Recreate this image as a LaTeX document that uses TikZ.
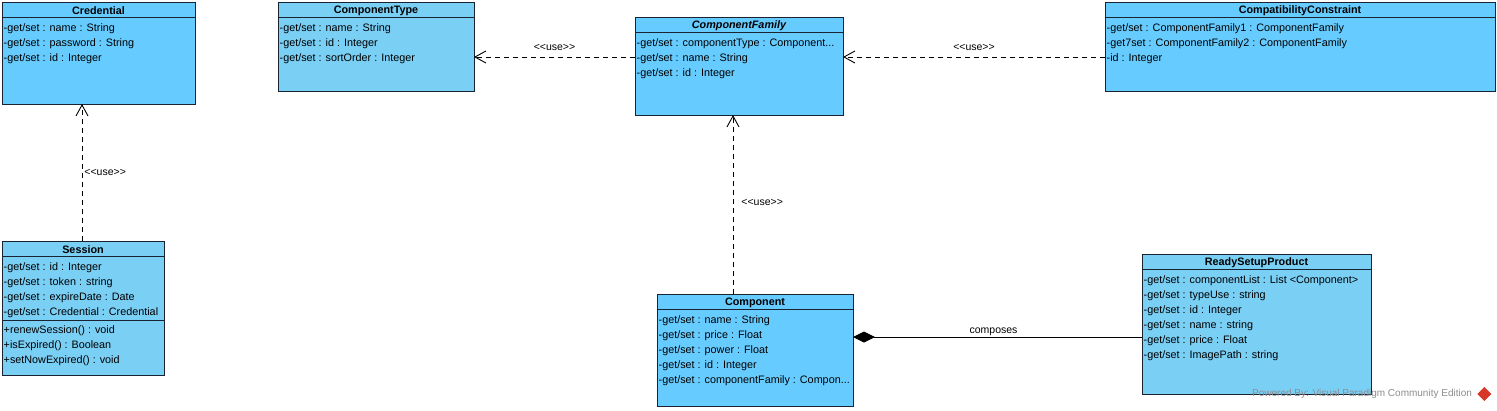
\documentclass[tikz,border=0pt]{standalone}
\usepackage{fontspec}
\setmainfont{Liberation Sans}
\usetikzlibrary{arrows.meta,shapes.geometric,positioning}
\definecolor{clsblue}{RGB}{102,204,255}
\definecolor{clslight}{RGB}{122,207,245}
\definecolor{clsline}{RGB}{25,35,50}
\definecolor{vpred}{RGB}{215,55,40}
\begin{document}
\begin{tikzpicture}[x=1pt, y=-1pt,
  cls/.style={draw=clsline, line width=1pt, anchor=north west, inner sep=0pt, outer sep=0pt},
  hl/.style={draw=clsline, line width=1pt},
  ttl/.style={font=\fontsize{10.8}{13}\selectfont\bfseries, inner sep=0pt},
  rows/.style={font=\fontsize{10.8}{15}\selectfont, align=left, anchor=north west, inner sep=0pt},
  usedep/.style={line width=0.9pt, dash pattern=on 5pt off 4pt, -{Straight Barb[length=11pt,width=12pt]}},
  lbl/.style={font=\fontsize{10.5}{12}\selectfont, inner sep=1pt}]
  \useasboundingbox (0,0) rectangle (1497,410);
  % Credential
  \node [cls, fill=clsblue, minimum width=193pt, minimum height=102pt] (cred) at (2,2) {};
  \draw [hl] ([yshift=-15pt]cred.north west) -- ([yshift=-15pt]cred.north east);
  \node [ttl] at ([yshift=-8.5pt]cred.north) {Credential};
  \node [rows] at ([xshift=1.5pt,yshift=-21pt]cred.north west)
    {-get/set : name : String\\-get/set : password : String\\-get/set : id : Integer};
  % ComponentType
  \node [cls, fill=clslight, minimum width=196pt, minimum height=89pt] (ctype) at (278,2) {};
  \draw [hl] ([yshift=-15pt]ctype.north west) -- ([yshift=-15pt]ctype.north east);
  \node [ttl] at ([yshift=-8.5pt]ctype.north) {ComponentType};
  \node [rows] at ([xshift=1.5pt,yshift=-21pt]ctype.north west)
    {-get/set : name : String\\-get/set : id : Integer\\-get/set : sortOrder : Integer};
  % ComponentFamily
  \node [cls, fill=clsblue, minimum width=208pt, minimum height=98pt] (fam) at (635,17) {};
  \draw [hl] ([yshift=-15pt]fam.north west) -- ([yshift=-15pt]fam.north east);
  \node [ttl, font=\fontsize{10.8}{13}\selectfont\bfseries\itshape] at ([yshift=-8.5pt]fam.north) {ComponentFamily};
  \node [rows] at ([xshift=1.5pt,yshift=-21pt]fam.north west)
    {-get/set : componentType : Component...\\-get/set : name : String\\-get/set : id : Integer};
  % CompatibilityConstraint
  \node [cls, fill=clsblue, minimum width=390pt, minimum height=89pt] (compat) at (1105,2) {};
  \draw [hl] ([yshift=-15pt]compat.north west) -- ([yshift=-15pt]compat.north east);
  \node [ttl] at ([yshift=-8.5pt]compat.north) {CompatibilityConstraint};
  \node [rows] at ([xshift=1.5pt,yshift=-21pt]compat.north west)
    {-get/set : ComponentFamily1 : ComponentFamily\\-get7set : ComponentFamily2 : ComponentFamily\\-id : Integer};
  % Session
  \node [cls, fill=clslight, minimum width=162pt, minimum height=134pt] (sess) at (2,241) {};
  \draw [hl] ([yshift=-15pt]sess.north west) -- ([yshift=-15pt]sess.north east);
  \draw [hl] ([yshift=-79pt]sess.north west) -- ([yshift=-79pt]sess.north east);
  \node [ttl] at ([yshift=-8.5pt]sess.north) {Session};
  \node [rows] at ([xshift=1.5pt,yshift=-21pt]sess.north west)
    {-get/set : id : Integer\\-get/set : token : string\\-get/set : expireDate : Date\\-get/set : Credential : Credential};
  \node [rows] at ([xshift=1.5pt,yshift=-84pt]sess.north west)
    {+renewSession() : void\\+isExpired() : Boolean\\+setNowExpired() : void};
  % Component
  \node [cls, fill=clsblue, minimum width=196pt, minimum height=112pt] (comp) at (657,294) {};
  \draw [hl] ([yshift=-15pt]comp.north west) -- ([yshift=-15pt]comp.north east);
  \node [ttl] at ([yshift=-8.5pt]comp.north) {Component};
  \node [rows] at ([xshift=1.5pt,yshift=-21pt]comp.north west)
    {-get/set : name : String\\-get/set : price : Float\\-get/set : power : Float\\-get/set : id : Integer\\-get/set : componentFamily : Compon...};
  % ReadySetupProduct
  \node [cls, fill=clslight, minimum width=229pt, minimum height=140pt] (ready) at (1142,254) {};
  \draw [hl] ([yshift=-15pt]ready.north west) -- ([yshift=-15pt]ready.north east);
  \node [ttl] at ([yshift=-8.5pt]ready.north) {ReadySetupProduct};
  \node [rows] at ([xshift=1.5pt,yshift=-21pt]ready.north west)
    {-get/set : componentList : List <Component>\\-get/set : typeUse : string\\-get/set : id : Integer\\-get/set : name : string\\-get/set : price : Float\\-get/set : ImagePath : string};
  % dependencies
  \draw [usedep] ([xshift=-1pt]sess.north) -- ([xshift=-1pt]sess.north |- cred.south)
    node [lbl, midway, right=1pt] {<{}<use>{}>};
  \draw [usedep] ([yshift=-40pt]fam.north west) -- ([yshift=-40pt]fam.north west -| ctype.east)
    node [lbl, midway, above=5pt] {<{}<use>{}>};
  \draw [usedep] ([yshift=-55pt]compat.north west) -- ([yshift=-55pt]compat.north west -| fam.east)
    node [lbl, midway, above=5pt] {<{}<use>{}>};
  \draw [usedep] ([xshift=-22pt]comp.north) -- ([xshift=-22pt]comp.north |- fam.south)
    node [lbl, midway, right=7pt, yshift=2pt] {<{}<use>{}>};
  % composition
  \draw [line width=0.9pt, {Diamond[length=22pt,width=11pt]}-] ([yshift=-43pt]comp.north east)
    -- ([yshift=-43pt]comp.north east -| ready.west) node [lbl, midway, above=0pt, xshift=-4pt] {composes};
  % watermark
  \node [font=\fontsize{10}{12}\selectfont, text=black!45, anchor=west, inner sep=0pt] (vp) at (1252,394)
    {Powered By: Visual Paradigm Community Edition};
  \node [diamond, fill=vpred, minimum size=14pt, inner sep=0pt, right=5pt of vp] (vplogo) {};
\end{tikzpicture}
\end{document}
